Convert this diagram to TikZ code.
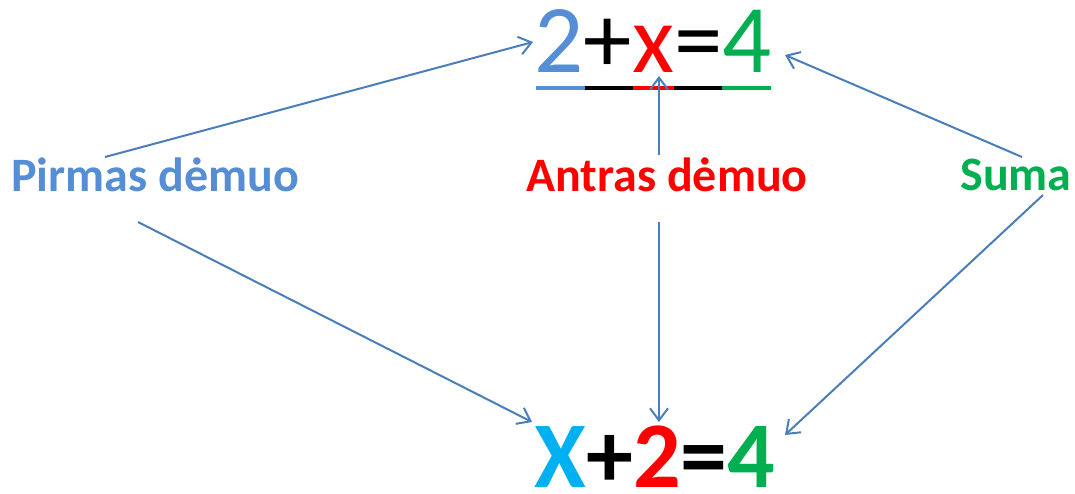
\documentclass[tikz,border=0pt]{standalone}
\usepackage{fontspec}
\setmainfont{Carlito}
\usetikzlibrary{arrows.meta,positioning}
\definecolor{lblblue}{HTML}{558ED5}
\definecolor{lblred}{HTML}{FF0000}
\definecolor{lblgreen}{HTML}{00B050}
\definecolor{xcyan}{HTML}{00B0F0}
\definecolor{arrline}{HTML}{4A7EBB}
\tikzset{
  lbl/.style={font=\fontsize{48}{48}\selectfont\bfseries,inner sep=0pt},
  eqn/.style={inner sep=0pt,anchor=base,text depth=0pt},
  arr/.style={-{Straight Barb[length=12pt,width=18pt]},line width=2pt,arrline},
  bar/.style={line width=4pt},
}
\begin{document}
\begin{tikzpicture}[x=1pt,y=-1pt]
  \useasboundingbox (0,0) rectangle (1075,493);
  % equations
  \node[eqn,font=\fontsize{97}{97}\selectfont]
    (eqtop)at(653,72)
    {\color{lblblue}2\color{black}+\color{lblred}x\color{black}=\color{lblgreen}4};
  \node[eqn,font=\fontsize{94}{94}\selectfont\bfseries]
    (eqbot)at(655,487)
    {\color{xcyan}X\color{black}+\color{lblred}2\color{black}=\color{lblgreen}4};
  % underline of the top equation
  \draw[bar,lblblue](536,88)--(585,88);
  \draw[bar,black](585,88)--(633,88);
  \draw[bar,lblred](633,88)--(674,88);
  \draw[bar,black](674,88)--(722,88);
  \draw[bar,lblgreen](722,88)--(771,88);
  % labels
  \node[lbl,text=lblblue](pirmas)at(155,175){Pirmas dėmuo};
  \node[lbl,text=lblred](antras)at(667,175){Antras dėmuo};
  \node[lbl,text=lblgreen](suma)at(1016,175){Suma};
  % arrow ends
  \coordinate(pUp)at(105,157);
  \coordinate(pDn)at(138,222);
  \coordinate(aUp)at(659,155);
  \coordinate(aDn)at(659,222);
  \coordinate(sUp)at(1022,157);
  \coordinate(sDn)at(1043,195);
  \coordinate(tTwo)at(533,42);
  \coordinate(tX)at(659,76);
  \coordinate(tFour)at(785,55);
  \coordinate(bX)at(532,422);
  \coordinate(bTwo)at(659,422);
  \coordinate(bFour)at(785,435);
  % arrows
  \draw[arr](pUp)--(tTwo);
  \draw[arr](pDn)--(bX);
  \draw[arr](aUp)--(tX);
  \draw[arr](aDn)--(bTwo);
  \draw[arr](sUp)--(tFour);
  \draw[arr](sDn)--(bFour);
\end{tikzpicture}
\end{document}
